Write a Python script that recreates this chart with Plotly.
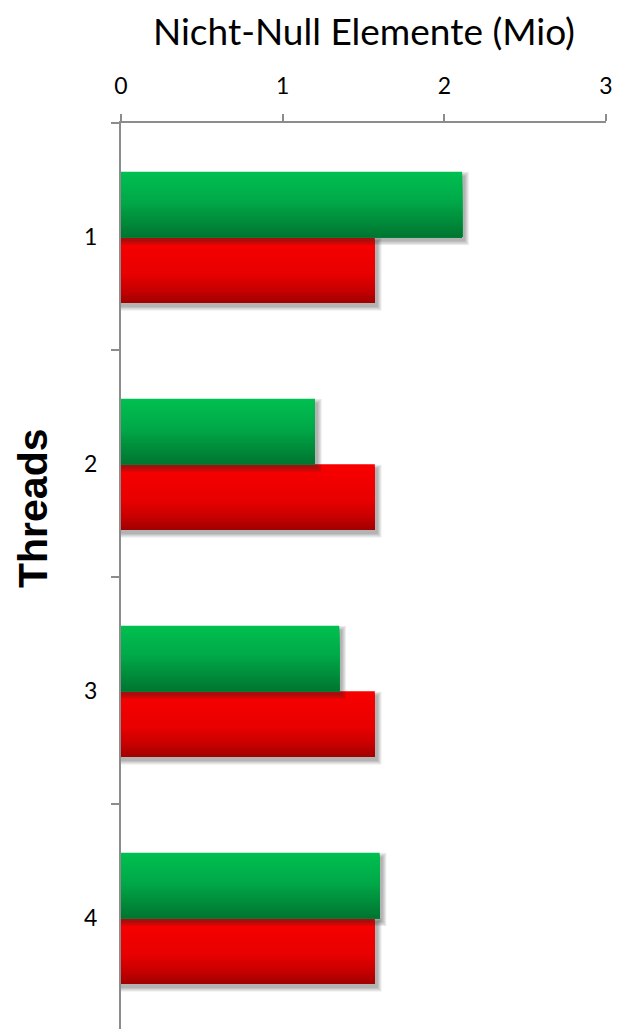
import plotly.graph_objects as go

# Data: non-zero elements (millions) per thread count
threads = ["1", "2", "3", "4"]
green_values = [2.11, 1.20, 1.35, 1.60]
red_values = [1.57, 1.57, 1.57, 1.57]
x_ticks = [0, 1, 2, 3]

W, H = 621, 1029
M_L, M_R, M_T, M_B = 121, 15, 123, 0
plot_w = W - M_L - M_R
plot_h = H - M_T - M_B
X_MAX = 3
px_x = plot_w / X_MAX          # pixels per data unit on x
CAT_PX = 227.0                 # height of one category band
y_hi = -0.5 + plot_h / CAT_PX  # last band is cut slightly by the page edge
px_y = CAT_PX

BAR_W = 0.289             # each bar's thickness in category units
SHIFT = 0.8 / px_y        # small downward nudge of the bar pair
N_SLICES = 30             # slices used to build the vertical colour gradient

FONT = "Century Gothic, Futura, Lato, sans-serif"


def hex_to_rgb(h):
    h = h.lstrip("#")
    return tuple(int(h[i:i + 2], 16) for i in (0, 2, 4))


def interp(stops, t):
    for (t0, c0), (t1, c1) in zip(stops, stops[1:]):
        if t0 <= t <= t1:
            f = (t - t0) / (t1 - t0) if t1 > t0 else 0
            a, b = hex_to_rgb(c0), hex_to_rgb(c1)
            return "rgb(%d,%d,%d)" % tuple(round(a[i] + (b[i] - a[i]) * f) for i in range(3))
    return stops[-1][1]


green_stops = [(0.0, "#00c050"), (0.45, "#00a948"), (1.0, "#007530")]
red_stops = [(0.0, "#f80000"), (0.55, "#e80000"), (0.8, "#c80000"), (1.0, "#a00000")]

fig = go.Figure()


def add_shadow(values, offset):
    # soft drop shadow: a few translucent layers shifted right/down
    dx = 3 / px_x
    dy = 4 / px_y
    for k in range(4):
        grow = k * 1.2
        fig.add_trace(go.Bar(
            y=threads, x=[v + dx + grow / px_x for v in values], base=0,
            orientation="h", width=BAR_W + 2 * grow / px_y,
            offset=offset + dy - grow / px_y,
            marker=dict(color="rgba(40,40,40,0.10)", line=dict(width=0)),
            hoverinfo="skip", showlegend=False,
        ))


def add_gradient_bar(values, offset, stops, name):
    # each slice runs to the bar's far edge, so the next one covers its tail
    step = BAR_W / N_SLICES
    for i in range(N_SLICES):
        t = (i + 0.5) / N_SLICES
        fig.add_trace(go.Bar(
            y=threads, x=values, orientation="h",
            width=BAR_W - i * step, offset=offset + i * step,
            marker=dict(color=interp(stops, t), line=dict(width=0)),
            name=name, showlegend=False,
            hoverinfo="x+y" if i == 0 else "skip",
        ))


add_shadow(red_values, SHIFT)
add_gradient_bar(red_values, SHIFT, red_stops, "rot")
add_shadow(green_values, SHIFT - BAR_W)
add_gradient_bar(green_values, SHIFT - BAR_W, green_stops, "grün")

axis_col = "#8c8c8c"

fig.update_layout(
    width=W, height=H,
    margin=dict(l=M_L, r=M_R, t=M_T, b=M_B, pad=0),
    paper_bgcolor="white", plot_bgcolor="white",
    barmode="overlay",
    font=dict(family=FONT, color="black"),
    xaxis=dict(
        side="top", range=[0, X_MAX], tickvals=x_ticks,
        ticktext=[str(v) for v in x_ticks],
        showgrid=False, zeroline=False,
        showline=True, linecolor=axis_col, linewidth=2,
        ticks="outside", ticklen=7, tickwidth=2, tickcolor=axis_col,
        tickfont=dict(size=23, family=FONT), ticklabelstandoff=11,
    ),
    yaxis=dict(
        type="category", categoryorder="array", categoryarray=threads,
        range=[y_hi, -0.5], tickson="boundaries",
        showgrid=False, zeroline=False,
        showline=True, linecolor=axis_col, linewidth=2,
        ticks="outside", ticklen=8, tickwidth=2, tickcolor=axis_col,
        tickfont=dict(size=23, family=FONT), ticklabelstandoff=17,
    ),
    annotations=[
        dict(text="Nicht-Null Elemente (Mio)", xref="paper", yref="paper",
             x=(364 - M_L) / plot_w, y=(H - 30) / plot_h,
             xanchor="center", yanchor="middle", showarrow=False,
             font=dict(size=37, family=FONT)),
        dict(text="<b>Threads</b>", xref="paper", yref="paper",
             x=(33 - M_L) / plot_w, y=(H - 508) / plot_h, textangle=-90,
             xanchor="center", yanchor="middle", showarrow=False,
             font=dict(size=41, family="Arial Black, Liberation Sans, sans-serif")),
    ],
)

fig.write_html("out.html")
